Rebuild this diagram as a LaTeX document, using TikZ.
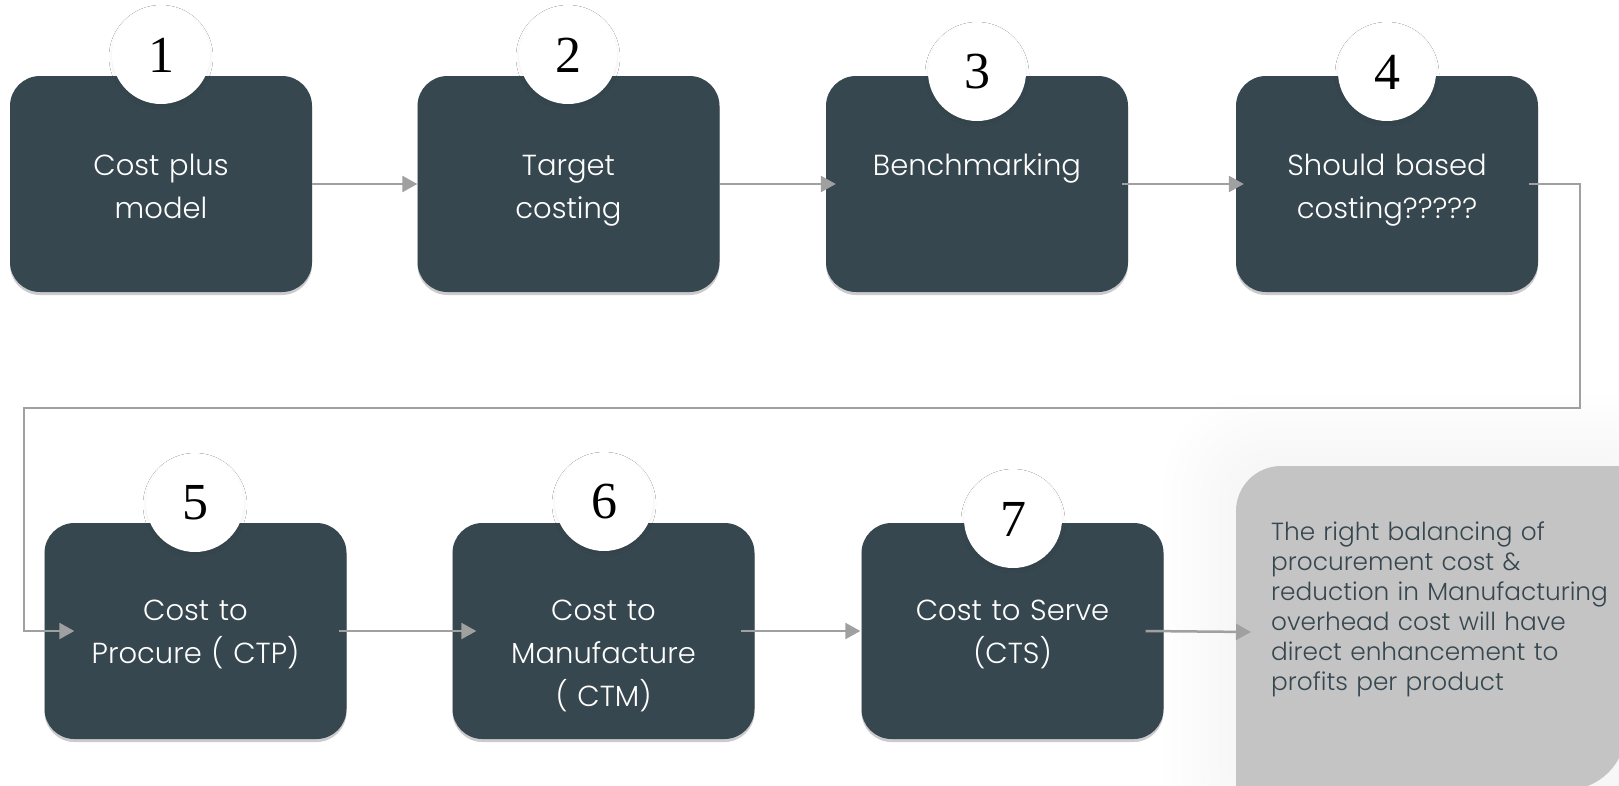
\documentclass[tikz,border=0pt]{standalone}
\usepackage{fontspec}
\setmainfont{Poppins}[UprightFont=* Light]
\newfontfamily\numfont{Liberation Serif}
\usetikzlibrary{shadows,shadows.blur,arrows.meta,calc}
\definecolor{boxc}{HTML}{37474F}
\definecolor{greyc}{HTML}{C4C4C4}
\definecolor{arrc}{HTML}{A0A0A0}
\definecolor{notetext}{HTML}{37474F}
\begin{document}
\begin{tikzpicture}[x=1pt,y=-1pt,
  stepbox/.style={fill=boxc, rounded corners=30pt, minimum width=302pt, minimum height=216pt, inner sep=0pt,
    drop shadow={shadow xshift=0pt, shadow yshift=-3pt, fill=black!40, opacity=0.5}},
  numc/.style={circle, fill=white, minimum size=98pt, inner sep=0pt,
    font=\numfont\fontsize{52}{52}\selectfont,
    blur shadow={shadow xshift=0pt, shadow yshift=-2pt, shadow blur radius=3pt, shadow opacity=8}},
  btxt/.style={text=white, font=\fontsize{29}{43}\selectfont, text width=300pt, align=center, inner sep=0pt, anchor=base},
  gtxt/.style={text=notetext, font=\fontsize{24.8}{30}\selectfont, text width=360pt, align=left, inner sep=0pt, anchor=base west},
  arr/.style={draw=arrc, line width=2.5pt, -{Triangle[length=15pt,width=16pt]}}
]
\useasboundingbox (0,0) rectangle (1619,785);
\fill[white] (0,0) rectangle (1619,785);

% soft glow around the note
\foreach \i in {1,...,8}{
  \fill[black, opacity=0.003, rounded corners=45pt+\i*6pt] (1236-\i*9,466-\i*9) rectangle (1640+\i*9,800+\i*9);
}
% note box
\fill[greyc] (1236,800) [rounded corners=45pt] -- (1236,466) [sharp corners] -- (1626,466) [rounded corners=60pt] -- (1626,790) [sharp corners] -- (1236,790) -- cycle;
\coordinate (gtip) at (1251,632);
\node[gtxt] (note) at (1271,540) {The right balancing of\\procurement cost \&\\reduction in Manufacturing\\overhead cost will have\\direct enhancement to\\profits per product};

% boxes
\node[stepbox] (b1) at (161,184) {};
\node[stepbox] (b2) at (568.5,184) {};
\node[stepbox] (b3) at (977,184) {};
\node[stepbox] (b4) at (1387,184) {};
\node[stepbox] (b5) at (195.5,631) {};
\node[stepbox] (b6) at (603.5,631) {};
\node[stepbox] (b7) at (1012.5,631) {};

% texts
\node[btxt] (t1) at ([yshift=-100pt]b1.north) {Cost plus\\model};
\node[btxt] (t2) at ([yshift=-100pt]b2.north) {Target\\costing};
\node[btxt] (t3) at ([yshift=-100pt]b3.north) {Benchmarking};
\node[btxt] (t4) at ([yshift=-100pt]b4.north) {Should based\\costing?????};
\node[btxt] (t5) at ([yshift=-98pt]b5.north) {Cost to\\Procure ( CTP)};
\node[btxt] (t6) at ([yshift=-98pt]b6.north) {Cost to\\Manufacture\\( CTM)};
\node[btxt] (t7) at ([yshift=-98pt]b7.north) {Cost to Serve\\(CTS)};

% number circles
\node[numc] (c1) at (161,55) {1};
\node[numc] (c2) at (568,55) {2};
\node[numc] (c3) at (977,72) {3};
\node[numc] (c4) at (1387,72) {4};
\node[numc] (c5) at (195,503) {5};
\node[numc] (c6) at (604,502) {6};
\node[numc] (c7) at (1013,519) {7};

% connectors
\coordinate (r1) at (1580,408);
\coordinate (l1) at (24,408);
\draw[arr] (b1.east) -- (b2.west);
\draw[arr] (b2.east) -- ([xshift=10pt]b3.west);
\draw[arr] ([xshift=-6pt]b3.east) -- ([xshift=8pt]b4.west);
\draw[arr] ([xshift=-9pt]b4.east) -| (r1) -- (l1) |- ([xshift=30pt]b5.west);
\draw[arr] ([xshift=-8pt]b5.east) -- ([xshift=24pt]b6.west);
\draw[arr] ([xshift=-14pt]b6.east) -- ([xshift=-1pt]b7.west);
\draw[arr] ([xshift=-18pt]b7.east) -- (gtip);
\end{tikzpicture}
\end{document}
